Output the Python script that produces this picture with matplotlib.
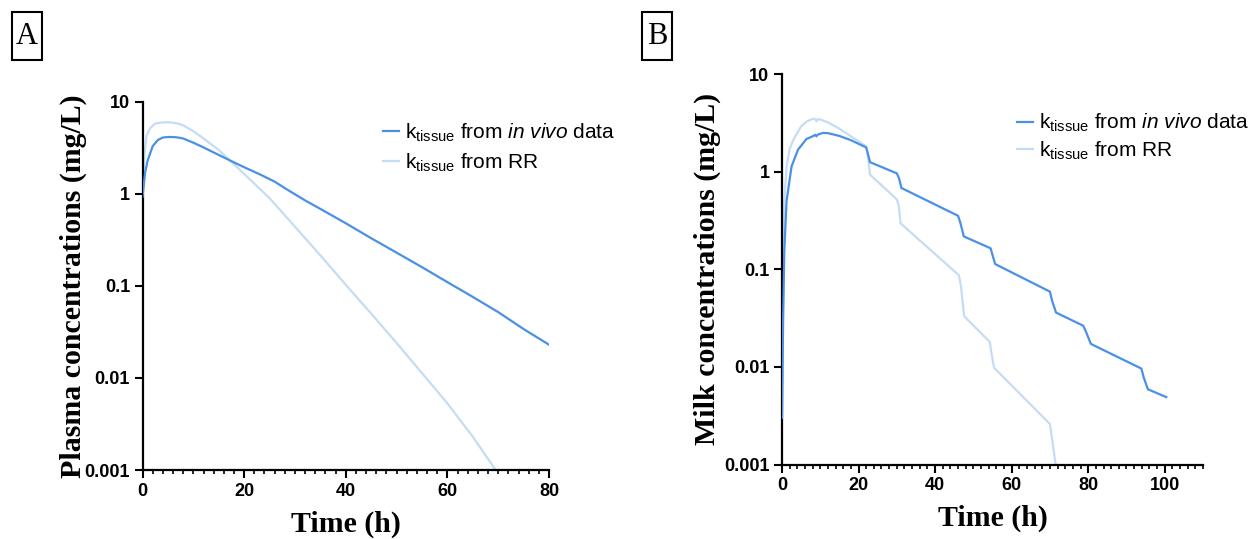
import numpy as np
import matplotlib.pyplot as plt
from matplotlib.patches import Rectangle
from matplotlib.ticker import FixedLocator, MultipleLocator

plt.rcParams['font.family'] = 'Liberation Sans'
plt.rcParams['mathtext.fontset'] = 'custom'
plt.rcParams['mathtext.rm'] = 'Liberation Sans'
plt.rcParams['mathtext.it'] = 'Liberation Sans:italic'

# ---- Panel A : plasma ----
tA_vivo = [0, 0.5, 1, 2, 3, 4, 5, 6, 7, 8, 10, 12, 15, 18, 20, 23, 26, 28.4, 32,
           36, 40, 45, 50, 55, 60, 65, 70, 75, 80]
cA_vivo = [0.93, 1.7, 2.3, 3.3, 3.85, 4.1, 4.15, 4.15, 4.1, 4.0, 3.6, 3.2, 2.65,
           2.2, 1.95, 1.64, 1.36, 1.12, 0.85, 0.64, 0.48, 0.33, 0.23, 0.16, 0.11,
           0.076, 0.052, 0.034, 0.023]
tA_rr = [0, 0.4, 0.8, 1.5, 2.5, 3.5, 5, 6, 7, 8, 10, 12, 15, 18, 20, 25, 30, 35,
         40, 45, 50, 55, 60, 65, 69.5]
cA_rr = [0.95, 2.8, 4.3, 5.2, 5.8, 5.95, 6.0, 5.95, 5.8, 5.55, 4.8, 4.0, 3.0,
         2.1, 1.65, 0.9, 0.44, 0.215, 0.103, 0.05, 0.024, 0.0113, 0.0053, 0.0023,
         0.001]

# ---- Panel B : milk ----
tB_vivo = [0, 0.3, 0.6, 1.2, 2.5, 4.2, 6.4, 8, 8.7, 9, 9.4, 10.7, 12, 15, 18,
           22, 22.5, 23, 30, 30.6, 31.2, 46, 46.6, 47.5, 54.5, 55, 55.7, 70,
           70.6, 71.6, 78.7, 79.4, 80.7, 93.9, 94.5, 95.6, 100.4]
cB_vivo = [0.003, 0.03, 0.15, 0.5, 1.13, 1.68, 2.16, 2.3, 2.38, 2.3, 2.4, 2.49,
           2.48, 2.32, 2.1, 1.77, 1.5, 1.25, 0.96, 0.85, 0.68, 0.353, 0.3, 0.217,
           0.164, 0.14, 0.113, 0.059, 0.047, 0.036, 0.0264, 0.023, 0.0172, 0.0096,
           0.0078, 0.0059, 0.0049]
tB_rr = [0, 0.3, 0.6, 1.2, 2, 3, 5, 6.5, 8.2, 8.7, 9, 9.4, 10, 12, 15, 18, 22,
         22.6, 23, 30, 30.5, 31, 46.2, 46.7, 47.6, 54.3, 54.7, 55.4, 70, 70.5,
         71.5]
cB_rr = [0.003, 0.05, 0.5, 1.13, 1.7, 2.13, 2.9, 3.28, 3.49, 3.45, 3.28, 3.45,
         3.42, 3.2, 2.75, 2.3, 1.82, 1.3, 0.93, 0.52, 0.45, 0.295, 0.087, 0.07,
         0.033, 0.018, 0.014, 0.0098, 0.0026, 0.0019, 0.001]

yticks = [0.001, 0.01, 0.1, 1, 10]
ylabels = ['0.001', '0.01', '0.1', '1', '10']

col_vivo = '#4a90e6'
col_rr = '#c5dcf5'
lab_vivo = r'k$_{\mathrm{tissue}}$ from $\it{in\ vivo}$ data'
lab_rr = r'k$_{\mathrm{tissue}}$ from RR'

fig = plt.figure(figsize=(12.58, 5.39), dpi=100)
axA = fig.add_axes([0.1133, 0.128, 0.3231, 0.683])
axB = fig.add_axes([0.6216, 0.1382, 0.3347, 0.7245])


def style(ax, xmax, ylab, ypad):
    ax.set_yscale('log')
    ax.set_ylim(0.001, 10)
    ax.set_xlim(0, xmax)
    ax.yaxis.set_major_locator(FixedLocator(yticks))
    ax.set_yticklabels(ylabels)
    ax.yaxis.set_minor_locator(FixedLocator([]))
    ax.xaxis.set_major_locator(MultipleLocator(20))
    ax.xaxis.set_minor_locator(MultipleLocator(2))
    for s in ['top', 'right']:
        ax.spines[s].set_visible(False)
    for s in ['left', 'bottom']:
        ax.spines[s].set_linewidth(1.6)
    ax.tick_params(which='major', length=6, width=1.5, labelsize=13, pad=3)
    ax.tick_params(which='minor', length=3, width=1.2)
    for lab in ax.get_xticklabels() + ax.get_yticklabels():
        lab.set_fontweight('bold')
    ax.set_xlabel('Time (h)', family='Liberation Serif', fontweight='bold',
                  fontsize=21.5, labelpad=8)
    ax.set_ylabel(ylab, family='Liberation Serif', fontweight='bold',
                  fontsize=21.5, labelpad=ypad)


axA.plot(tA_vivo, cA_vivo, color=col_vivo, lw=1.6, label=lab_vivo, zorder=3)
axA.plot(tA_rr, cA_rr, color=col_rr, lw=1.6, label=lab_rr, zorder=2)
style(axA, 80, 'Plasma concentrations (mg/L)', -2)
axA.legend(loc='upper left', bbox_to_anchor=(0.592, 0.946), frameon=False,
           fontsize=15, handlelength=0.75, handletextpad=0.3,
           labelspacing=0.36, borderaxespad=0, borderpad=0)

axB.plot(tB_vivo, cB_vivo, color=col_vivo, lw=1.6, label=lab_vivo, zorder=3)
axB.plot(tB_rr, cB_rr, color=col_rr, lw=1.6, label=lab_rr, zorder=2)
style(axB, 110, 'Milk concentrations (mg/L)', 2)
axB.legend(loc='upper left', bbox_to_anchor=(0.558, 0.903), frameon=False,
           fontsize=15, handlelength=0.75, handletextpad=0.3,
           labelspacing=0.25, borderaxespad=0, borderpad=0)

# panel letters in boxes
for letter, x0 in [('A', 12), ('B', 642)]:
    fig.patches.append(Rectangle((x0 / 1258, 1 - 60 / 539), 30 / 1258, 48 / 539,
                                 transform=fig.transFigure, fill=False,
                                 edgecolor='black', lw=1.5))
    fig.text((x0 + 15) / 1258, 1 - 37 / 539, letter, family='Liberation Serif',
             fontsize=22, ha='center', va='center')

plt.savefig('out.png', dpi=100)
